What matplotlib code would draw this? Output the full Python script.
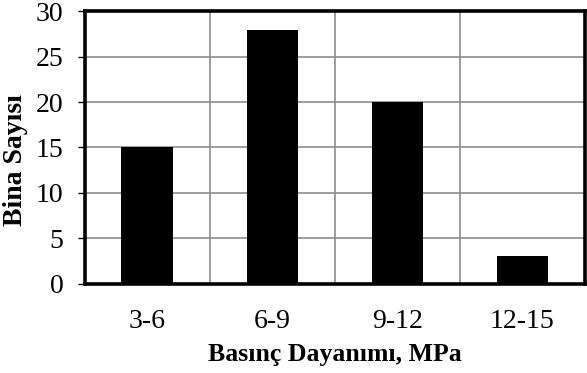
import matplotlib.pyplot as plt

# data
categories = ["3-6", "6-9", "9-12", "12-15"]
counts = [15, 28, 20, 3]
yticks = [0, 5, 10, 15, 20, 25, 30]

plt.rcParams['font.family'] = ['Liberation Serif', 'DejaVu Serif']

fig = plt.figure(figsize=(5.87, 3.73), dpi=100)
ax = fig.add_axes([84.5 / 587, 1 - 283.5 / 373, (585 - 84.5) / 587, (283.5 - 11.5) / 373])

x = list(range(len(categories)))
ax.bar(x, counts, width=0.41, color='black', zorder=3)

ax.set_xlim(-0.5, len(categories) - 0.5)
ax.set_ylim(0, 30)
ax.set_yticks(yticks)

# gridlines: horizontal at ticks, vertical at category boundaries
for y in yticks[1:-1]:
    ax.axhline(y, color='#8c8c8c', lw=1.2, zorder=1)
for b in range(1, len(categories)):
    ax.axvline(b - 0.5, color='#8c8c8c', lw=1.2, zorder=1)

for s in ax.spines.values():
    s.set_linewidth(2.6)
    s.set_color('black')
    s.set_zorder(4)

ax.set_xticks(x)
ax.set_xticklabels(categories)
ax.tick_params(axis='x', length=0, pad=18, labelsize=20)
ax.tick_params(axis='y', length=5, width=1, pad=10, labelsize=20)

ax.set_xlabel('Basınç Dayanımı, MPa', fontsize=18.5, fontweight='bold', labelpad=7)
ax.set_ylabel('Bina Sayısı', fontsize=20, fontweight='bold')
ax.yaxis.set_label_coords(-0.113, 0.455)

fig.savefig('out.png', dpi=100)
